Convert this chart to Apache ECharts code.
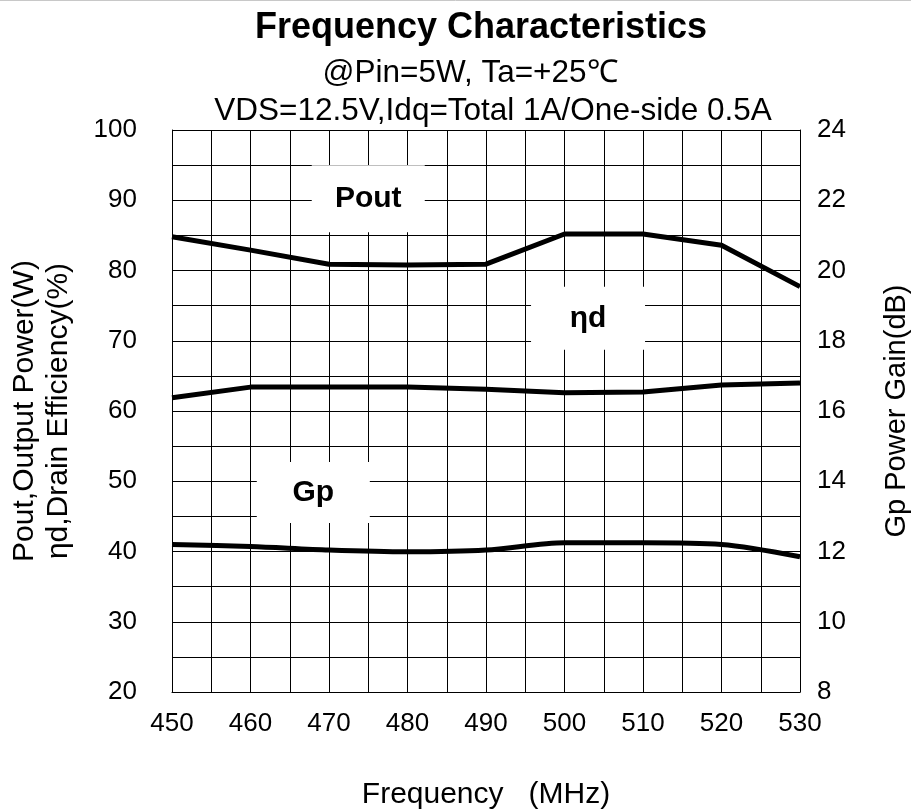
<!DOCTYPE html>
<html>
<head>
<meta charset="utf-8">
<script src="https://cdn.jsdelivr.net/npm/echarts@6/dist/echarts.min.js"></script>
<style>
	html, body { margin: 0; padding: 0; background: #fff; }
	#chart { width: 911px; height: 812px; }
</style>
</head>
<body>
<div id="chart"></div>
<script>
	"use strict";
	// data
	var freq = [450, 460, 470, 480, 490, 500, 510, 520, 530];
	var pout = [84.8, 82.9, 80.9, 80.8, 80.9, 85.2, 85.2, 83.6, 77.7];
	var eff = [61.9, 63.4, 63.4, 63.4, 63.1, 62.6, 62.7, 63.7, 64.0];
	var gain = [12.2, 12.14, 12.04, 11.99, 12.04, 12.25, 12.25, 12.2, 11.85];

	var font = "'Liberation Sans', Arial, sans-serif";

	function pairs(xs, ys) {
		var out = [];
		for (var i = 0; i < xs.length; i++) {
			out.push([xs[i], ys[i]]);
		}
		return out;
	}

	// white box with bold text, placed in data coordinates
	function tag(text, coord, size) {
		return {
			silent: true,
			symbol: 'rect',
			data: [{
				coord: coord,
				symbolSize: size,
				itemStyle: { color: '#fff' },
				label: {
					show: true,
					position: 'inside',
					formatter: text,
					color: '#000',
					fontFamily: font,
					fontSize: 30,
					fontWeight: 'bold'
				}
			}]
		};
	}

	var myChart = echarts.init(document.getElementById('chart'));
	var option = {
		animation: false,
		backgroundColor: '#fff',
		textStyle: { fontFamily: font },
		title: [{
			text: 'Frequency Characteristics',
			left: 481,
			textAlign: 'center',
			top: 10,
			padding: 0,
			textStyle: { fontSize: 36, fontWeight: 'bold', color: '#000', fontFamily: font }
		}, {
			text: '@Pin=5W, Ta=+25\u2103',
			left: 470,
			textAlign: 'center',
			top: 57,
			padding: 0,
			textStyle: { fontSize: 31.5, fontWeight: 'normal', color: '#000', fontFamily: font }
		}, {
			text: 'VDS=12.5V,Idq=Total 1A/One-side 0.5A',
			left: 493,
			textAlign: 'center',
			top: 95,
			padding: 0,
			textStyle: { fontSize: 31.5, fontWeight: 'normal', color: '#000', fontFamily: font }
		}],
		graphic: [{
			type: 'line',
			shape: { x1: 0, y1: 0.5, x2: 911, y2: 0.5 },
			style: { stroke: '#c8c8c8', lineWidth: 1 }
		}],
		grid: {
			left: 172,
			right: 111,
			top: 130,
			bottom: 120,
			containLabel: false,
			outerBoundsMode: 'none'
		},
		xAxis: {
			type: 'value',
			min: 450,
			max: 530,
			interval: 10,
			name: 'Frequency   (MHz)',
			nameLocation: 'middle',
			nameGap: 88,
			nameTextStyle: { fontSize: 30, color: '#000', fontFamily: font },
			axisLine: { lineStyle: { color: '#000', width: 1 } },
			axisTick: { show: false },
			axisLabel: { fontSize: 26, color: '#000', margin: 19, fontFamily: font },
			splitLine: { show: true, lineStyle: { color: '#000', width: 1 } },
			minorTick: { show: false, splitNumber: 2 },
			minorSplitLine: { show: true, lineStyle: { color: '#000', width: 1 } }
		},
		yAxis: [{
			type: 'value',
			min: 20,
			max: 100,
			interval: 10,
			name: 'Pout,Output Power(W)\n\u03b7d,Drain Efficiency(%)',
			nameLocation: 'middle',
			nameRotate: 90,
			nameGap: 96,
			nameTextStyle: { fontSize: 30, lineHeight: 34, color: '#000', fontFamily: font },
			axisLine: { show: true, lineStyle: { color: '#000', width: 1 } },
			axisTick: { show: false },
			axisLabel: { fontSize: 26, color: '#000', margin: 35, fontFamily: font },
			splitLine: { show: true, lineStyle: { color: '#000', width: 1 } },
			minorTick: { show: false, splitNumber: 2 },
			minorSplitLine: { show: true, lineStyle: { color: '#000', width: 1 } }
		}, {
			type: 'value',
			min: 8,
			max: 24,
			interval: 2,
			position: 'right',
			name: 'Gp Power Gain(dB)',
			nameLocation: 'middle',
			nameRotate: 90,
			nameGap: 82,
			nameTextStyle: { fontSize: 29, color: '#000', fontFamily: font },
			axisLine: { show: true, lineStyle: { color: '#000', width: 1 } },
			axisTick: { show: false },
			axisLabel: { fontSize: 26, color: '#000', margin: 17, fontFamily: font },
			splitLine: { show: false }
		}],
		series: [{
			name: 'Pout',
			type: 'line',
			yAxisIndex: 0,
			data: pairs(freq, pout),
			showSymbol: false,
			lineStyle: { color: '#000', width: 5 },
			itemStyle: { color: '#000' },
			markPoint: tag('Pout', [475, 90.2], [113, 67])
		}, {
			name: '\u03b7d',
			type: 'line',
			yAxisIndex: 0,
			data: pairs(freq, eff),
			showSymbol: false,
			lineStyle: { color: '#000', width: 5 },
			itemStyle: { color: '#000' },
			markPoint: tag('\u03b7d', [503, 73.2], [114, 63])
		}, {
			name: 'Gp',
			type: 'line',
			yAxisIndex: 1,
			data: pairs(freq, gain),
			smooth: 0.3,
			showSymbol: false,
			lineStyle: { color: '#000', width: 5 },
			itemStyle: { color: '#000' },
			markPoint: tag('Gp', [468, 13.68], [113, 61])
		}]
	};
	myChart.setOption(option);
</script>
</body>
</html>
